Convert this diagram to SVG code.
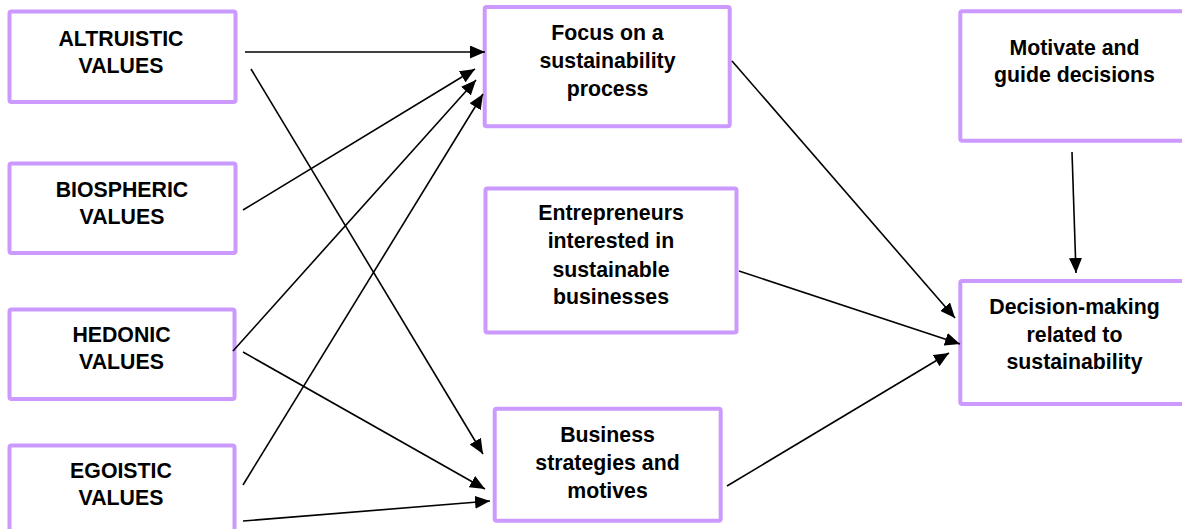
<svg xmlns="http://www.w3.org/2000/svg" width="1182" height="529" viewBox="0 0 1182 529">
<style>
.box{fill:#fff;stroke:#CC99FF;stroke-width:4;}
.t{font-family:"Liberation Sans",Arial,sans-serif;font-weight:bold;font-size:21.3px;fill:#000;text-anchor:middle;}
.c{stroke:#000;stroke-width:1.6;fill:none;marker-end:url(#ah);}
</style>
<defs>
<marker id="ah" viewBox="0 0 15 13" refX="15" refY="6.5" markerWidth="15" markerHeight="13" markerUnits="userSpaceOnUse" orient="auto">
<path d="M0,0 L15,6.5 L0,13 z" fill="#000"/>
</marker>
</defs>
<rect width="1182" height="529" fill="#fff"/>
<g id="altruistic"><rect class="box" x="9.5" y="11.5" width="226" height="90.5" rx="2"/><text class="t" x="121" y="45.5">ALTRUISTIC</text><text class="t" x="121" y="72.5">VALUES</text></g>
<g id="biospheric"><rect class="box" x="9.5" y="163.5" width="226" height="89.5" rx="2"/><text class="t" x="122" y="196.5">BIOSPHERIC</text><text class="t" x="122" y="224">VALUES</text></g>
<g id="hedonic"><rect class="box" x="9.5" y="309.5" width="225" height="89.5" rx="2"/><text class="t" x="121.5" y="341.5">HEDONIC</text><text class="t" x="121.5" y="369">VALUES</text></g>
<g id="egoistic"><rect class="box" x="9.5" y="445.5" width="225" height="100" rx="2"/><text class="t" x="121" y="478">EGOISTIC</text><text class="t" x="121" y="505">VALUES</text></g>
<g id="focus"><rect class="box" x="484.7" y="7" width="245" height="119.3" rx="2"/><text class="t" x="607.5" y="40">Focus on a</text><text class="t" x="607.5" y="68">sustainability</text><text class="t" x="607.5" y="96">process</text></g>
<g id="entrepreneurs"><rect class="box" x="485.5" y="188.5" width="251" height="144" rx="2"/><text class="t" x="611" y="220">Entrepreneurs</text><text class="t" x="611" y="248">interested in</text><text class="t" x="611" y="276.5">sustainable</text><text class="t" x="611" y="303.5">businesses</text></g>
<g id="business"><rect class="box" x="494.7" y="408.7" width="226" height="112" rx="2"/><text class="t" x="607.5" y="441.5">Business</text><text class="t" x="607.5" y="469.5">strategies and</text><text class="t" x="607.5" y="497.5">motives</text></g>
<g id="motivate"><rect class="box" x="960.3" y="11.3" width="228" height="129.4" rx="2"/><text class="t" x="1074.5" y="54.5">Motivate and</text><text class="t" x="1074.5" y="81.5">guide decisions</text></g>
<g id="decision"><rect class="box" x="960.3" y="281" width="228" height="123" rx="2"/><text class="t" x="1074.5" y="313.5">Decision-making</text><text class="t" x="1074.5" y="341.5">related to</text><text class="t" x="1074.5" y="368.5">sustainability</text></g>
<g id="connectors">
<line class="c" x1="245" y1="52" x2="485" y2="52"/>
<line class="c" x1="251" y1="69" x2="483" y2="454"/>
<line class="c" x1="243" y1="210" x2="475" y2="69"/>
<line class="c" x1="233" y1="351" x2="476" y2="80"/>
<line class="c" x1="243" y1="485" x2="483" y2="94"/>
<line class="c" x1="243" y1="352" x2="485" y2="489"/>
<line class="c" x1="243" y1="521" x2="490" y2="501"/>
<line class="c" x1="732" y1="61" x2="955" y2="318"/>
<line class="c" x1="739" y1="271" x2="960" y2="344"/>
<line class="c" x1="727" y1="486" x2="949" y2="353"/>
<line class="c" x1="1072" y1="152" x2="1076" y2="273"/>
</g>
</svg>
